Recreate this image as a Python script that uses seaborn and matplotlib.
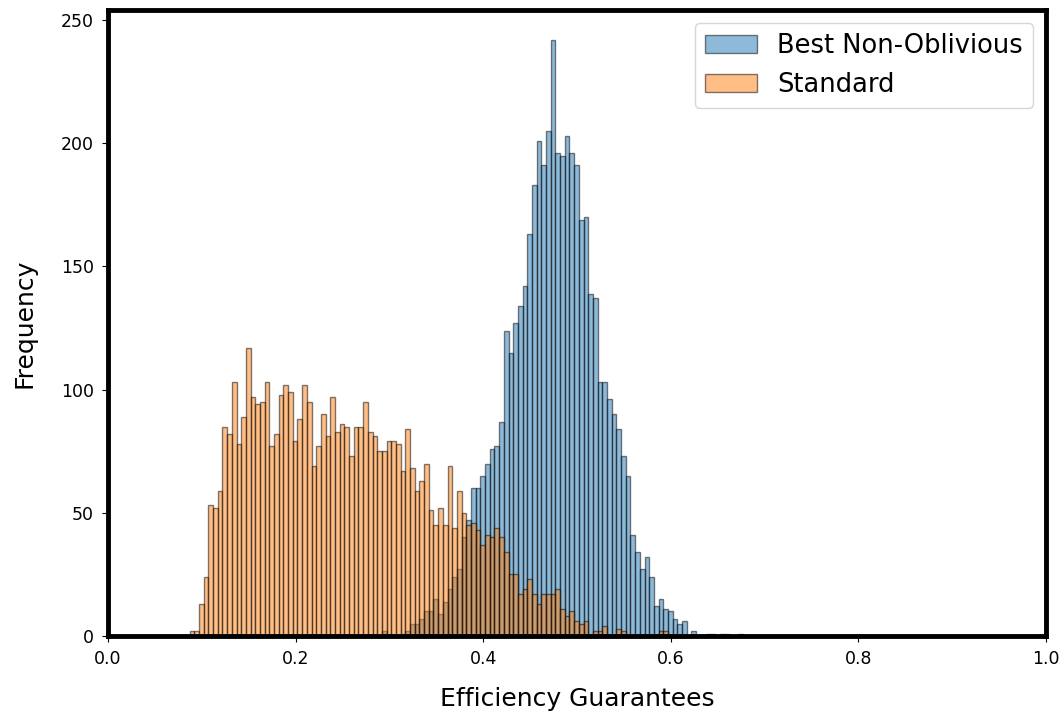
import numpy as np
import pandas as pd
import seaborn as sns
import matplotlib
matplotlib.use("Agg")
import matplotlib.pyplot as plt

# histogram bins: width 0.005, first edge at 0.087
BIN_START = 0.087
BIN_WIDTH = 0.005

# counts per bin
standard = [
    2, 2, 13, 24, 53, 52, 59, 85, 82, 103, 78, 89, 117, 97, 94, 95, 103, 77, 82, 98,
    102, 99, 79, 88, 102, 95, 69, 77, 90, 81, 97,
    83, 86, 85, 73, 85, 85, 95, 83, 81, 75, 75, 79, 79, 78, 67, 84, 68, 59, 63, 70,
    51, 45, 52, 45, 69, 44, 59, 50, 45,
    46, 43, 37, 41, 40, 44, 40, 34, 25, 25, 17, 19, 23, 17, 13, 17, 17, 17, 19, 11,
    8, 10, 6,
    5, 6, 0, 2, 2, 4, 0, 0, 3, 2, 0, 0, 0, 0, 0, 0, 0, 2, 2,
    0, 0, 0, 0, 0, 0, 0, 0, 0, 0, 0, 0, 0, 0, 0, 0,
]
best_non_oblivious = [0] * 41 + [
    2, 0, 0, 0, 1, 2, 5, 5, 7, 10, 10, 15, 9, 14, 19, 24, 27, 40, 47,
    60, 60, 65, 70, 76, 77, 87, 124, 115, 127, 134, 142, 163, 183, 201, 191, 205, 242,
    196, 195, 203, 196, 191, 169, 170, 139, 137, 103, 103, 96, 90, 84, 73, 65, 41,
    34, 27, 32, 24, 12, 15, 11, 10, 7, 5, 6, 0, 2,
    0, 0, 1, 1, 0, 1, 1, 0, 0, 1,
]

n = len(standard)
edges = [BIN_START + BIN_WIDTH * i for i in range(n + 1)]
centers = [e + BIN_WIDTH / 2 for e in edges[:-1]]

df = pd.DataFrame({
    "x": centers,
    "best": np.array(best_non_oblivious, dtype=float),
    "standard": np.array(standard, dtype=float),
})

fig = plt.figure(figsize=(10.63, 7.13), dpi=100)
ax = fig.add_axes([0.1016, 0.108, 0.8824, 0.878])

edge = (0, 0, 0, 0.5)
sns.histplot(data=df, x="x", weights="best", bins=edges, color="C0",
             alpha=0.5, edgecolor=edge, linewidth=1,
             label="Best Non-Oblivious", ax=ax)
sns.histplot(data=df, x="x", weights="standard", bins=edges, color="C1",
             alpha=0.5, edgecolor=edge, linewidth=1,
             label="Standard", ax=ax)

ax.set_xlim(0, 1)
ax.set_xticks([0.0, 0.2, 0.4, 0.6, 0.8, 1.0])
ax.set_yticks([0, 50, 100, 150, 200, 250])
ax.tick_params(labelsize=12.5, length=4, pad=6)
ax.set_xlabel("Efficiency Guarantees", fontsize=18, labelpad=14)
ax.set_ylabel("Frequency", fontsize=18, labelpad=18)
for s in ax.spines.values():
    s.set_linewidth(3.5)
    s.set_color("black")

ax.legend(loc="upper right", fontsize=18.5, borderaxespad=0.5)

fig.savefig("out.png", dpi=100)
